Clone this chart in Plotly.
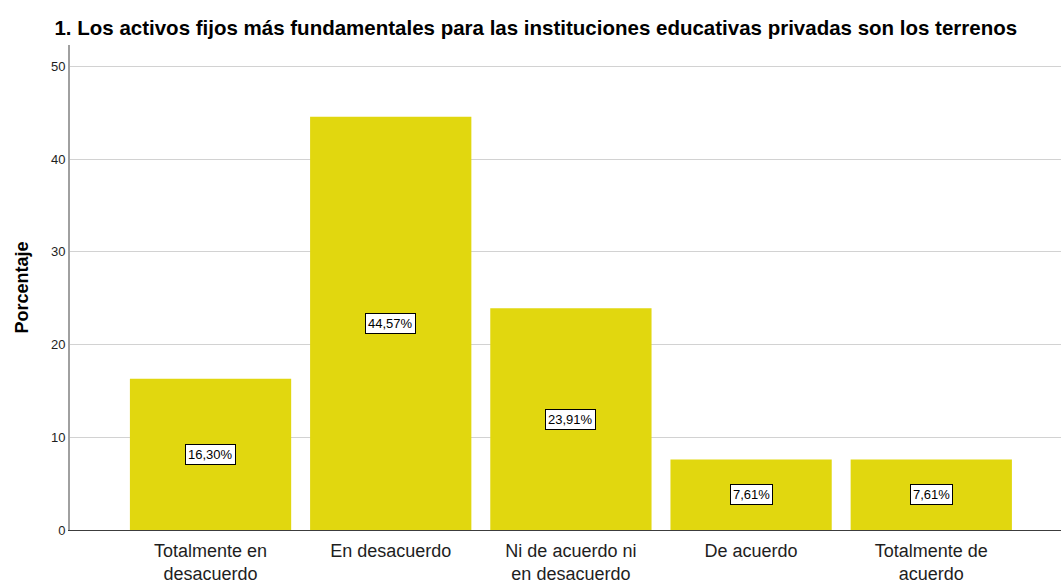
import plotly.graph_objects as go

CATEGORIES = ['Totalmente en<br>desacuerdo', 'En desacuerdo', 'Ni de acuerdo ni<br>en desacuerdo',
              'De acuerdo', 'Totalmente de<br>acuerdo']
PERCENTS = [16.30, 44.57, 23.91, 7.61, 7.61]
LABELS = ['16,30%', '44,57%', '23,91%', '7,61%', '7,61%']
Y_TICKS = [0, 10, 20, 30, 40, 50]

TITLE = '1. Los activos fijos más fundamentales para las instituciones educativas privadas son los terrenos'
YELLOW = 'rgb(225,215,15)'
FONT = 'Liberation Sans, Arial, sans-serif'

x_idx = list(range(len(CATEGORIES)))

fig = go.Figure(go.Bar(
    x=x_idx,
    y=PERCENTS,
    marker=dict(color=YELLOW, line=dict(width=0)),
    width=0.895,
    hoverinfo='skip',
))

for i, (v, lab) in enumerate(zip(PERCENTS, LABELS)):
    fig.add_annotation(
        x=i, y=v / 2, text=lab, showarrow=False,
        font=dict(family=FONT, size=13, color='black'),
        bgcolor='white', bordercolor='black', borderwidth=1, borderpad=2,
    )

fig.update_layout(
    width=1061, height=581,
    margin=dict(l=70, r=0, t=45, b=51),
    paper_bgcolor='white', plot_bgcolor='white',
    font=dict(family=FONT, color='black'),
    title=dict(text='<b>' + TITLE + '</b>', x=0.505, xanchor='center', y=0.952, yanchor='middle',
               font=dict(family=FONT, size=20.5, color='black')),
    showlegend=False,
)
fig.update_xaxes(
    range=[-0.78, 4.72], tickvals=x_idx, ticktext=CATEGORIES, automargin=False,
    showgrid=False, showline=True, linecolor='rgb(60,60,60)', linewidth=1,
    ticks='', ticklabelstandoff=4,
    tickfont=dict(family=FONT, size=18, color='rgb(30,30,30)'), zeroline=False,
)
fig.update_yaxes(
    range=[0, 52.3], tickvals=Y_TICKS, ticks='', automargin=False,
    showgrid=True, gridcolor='rgb(210,210,210)', gridwidth=1,
    showline=True, linecolor='rgb(160,160,160)', linewidth=2,
    tickfont=dict(family=FONT, size=13, color='rgb(30,30,30)'), zeroline=False,
    title=dict(text='<b>Porcentaje</b>', font=dict(family=FONT, size=18, color='black'), standoff=18),
)

fig.write_html('out.html', config={'displayModeBar': False},
               post_script="document.body.style.margin='0';")
